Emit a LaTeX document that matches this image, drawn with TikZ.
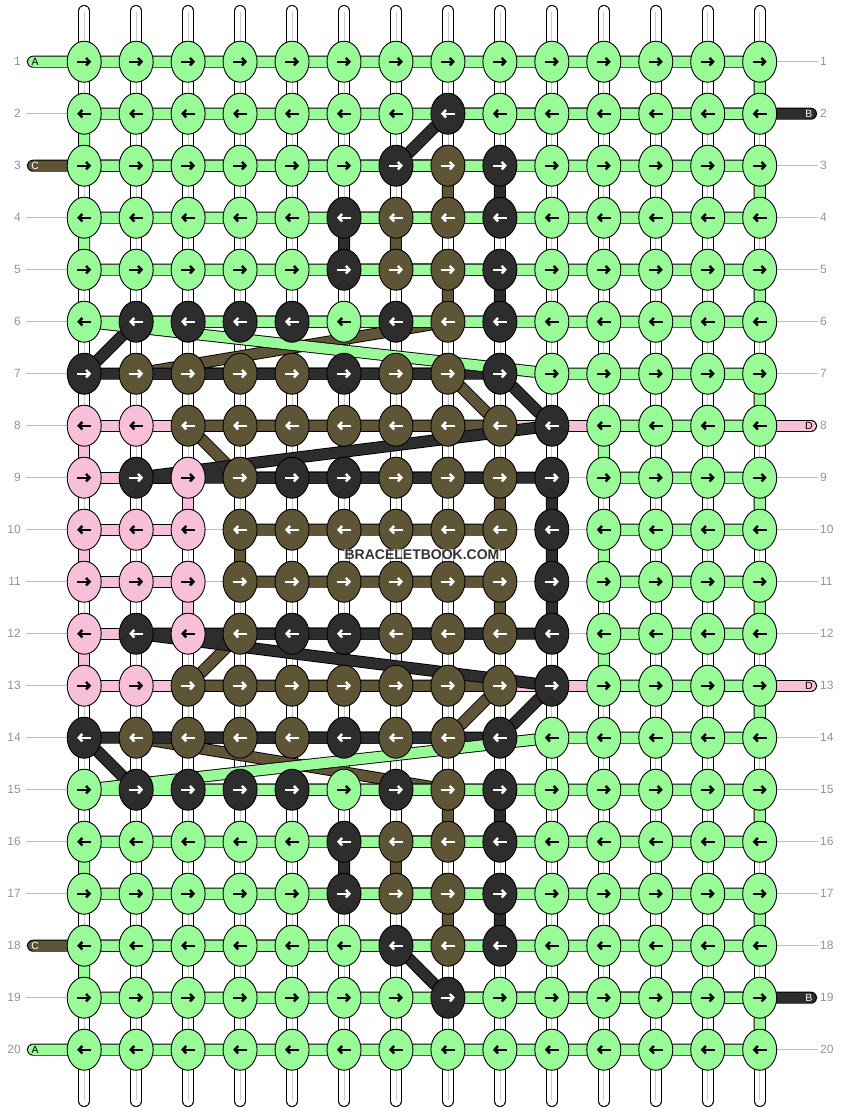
\documentclass[tikz,border=0pt]{standalone}
\usepackage{fontspec}
\setmainfont{Liberation Sans}
\usetikzlibrary{shapes.geometric,arrows.meta}
\definecolor{kg}{HTML}{98FB98}
\definecolor{kd}{HTML}{2D2D2D}
\definecolor{kb}{HTML}{5E5436}
\definecolor{kp}{HTML}{F8BFD9}
\colorlet{arrowkg}{black}
\colorlet{arrowkp}{black}
\colorlet{arrowkd}{white}
\colorlet{arrowkb}{white}
\pgfdeclarelayer{back}
\pgfdeclarelayer{strands}
\pgfsetlayers{back,strands,main}
\tikzstyle{every picture}=[x=1pt, y=-1pt]
\tikzstyle{knot}=[ellipse, draw=black, line width=0.9pt, minimum width=34pt, minimum height=41pt, inner sep=0pt]
\tikzstyle{arr}=[line width=2.4pt, -{Straight Barb[length=3.5pt,width=7.5pt]}]
\tikzstyle{warp}=[draw=black, line width=0.9pt, double=white, double distance=10.2pt, line cap=round]
\tikzstyle{warpcore}=[draw=black!20, line width=0.7pt]
\tikzstyle{guide}=[draw=black!25, line width=0.8pt]
\tikzstyle{rownum}=[text=black!42, font=\fontsize{12}{12}\selectfont, inner sep=0pt]
\tikzstyle{tag}=[font=\fontsize{10.5}{10.5}\selectfont, inner sep=0pt]
\tikzstyle{logomark}=[font=\bfseries\fontsize{14}{14}\selectfont, text=black!80, fill=white, fill opacity=.6, text opacity=1, inner sep=1pt]
\tikzset{strand/.style={draw=black, line width=0.9pt, double=#1, double distance=10.2pt, line cap=round, line join=round}}

\begin{document}
\begin{tikzpicture}
	\useasboundingbox (0,0) rectangle (844,1112);
	\foreach \row [count=\r] in {
		{g,g,g,g,g,g,g,g,g,g,g,g,g,g},
		{g,g,g,g,g,g,g,d,g,g,g,g,g,g},
		{g,g,g,g,g,g,d,b,d,g,g,g,g,g},
		{g,g,g,g,g,d,b,b,d,g,g,g,g,g},
		{g,g,g,g,g,d,b,b,d,g,g,g,g,g},
		{g,d,d,d,d,g,d,b,d,g,g,g,g,g},
		{d,b,b,b,b,d,b,b,d,g,g,g,g,g},
		{p,p,b,b,b,b,b,b,b,d,g,g,g,g},
		{p,d,p,b,d,d,b,b,b,d,g,g,g,g},
		{p,p,p,b,b,b,b,b,b,d,g,g,g,g},
		{p,p,p,b,b,b,b,b,b,d,g,g,g,g},
		{p,d,p,b,d,d,b,b,b,d,g,g,g,g},
		{p,p,b,b,b,b,b,b,b,d,g,g,g,g},
		{d,b,b,b,b,d,b,b,d,g,g,g,g,g},
		{g,d,d,d,d,g,d,b,d,g,g,g,g,g},
		{g,g,g,g,g,d,b,b,d,g,g,g,g,g},
		{g,g,g,g,g,d,b,b,d,g,g,g,g,g},
		{g,g,g,g,g,g,d,b,d,g,g,g,g,g},
		{g,g,g,g,g,g,g,d,g,g,g,g,g,g},
		{g,g,g,g,g,g,g,g,g,g,g,g,g,g}}{
		\foreach \col [count=\k] in \row {
			\node[knot, fill=k\col] (k\r-\k) at ({84.2+51.96*(\k-1)},{61.7+52*(\r-1)}) {};
			\ifodd\r\relax
				\draw[arr, draw=arrowk\col] (k\r-\k.center) ++(-7,0) -- ++(14,0);
			\else
				\draw[arr, draw=arrowk\col] (k\r-\k.center) ++(7,0) -- ++(-14,0);
			\fi
		}
	}
	\foreach \r in {1,...,20} {
		\node[rownum, anchor=east] (nl\r) at (21,{61.7+52*(\r-1)}) {\r};
		\node[rownum, anchor=west] (nr\r) at (820,{61.7+52*(\r-1)}) {\r};
	}
	\coordinate (tA1) at ([xshift=-51.2pt]k1-1.center);
	\coordinate (tA20) at ([xshift=-51.2pt]k20-1.center);
	\coordinate (tC3) at ([xshift=-51.2pt]k3-1.center);
	\coordinate (tC18) at ([xshift=-51.2pt]k18-1.center);
	\coordinate (tB2) at ([xshift=51.3pt]k2-14.center);
	\coordinate (tB19) at ([xshift=51.3pt]k19-14.center);
	\coordinate (tD8) at ([xshift=51.3pt]k8-14.center);
	\coordinate (tD13) at ([xshift=51.3pt]k13-14.center);
	\node[tag, text=black] (lA1) at ([xshift=-49pt]k1-1.center) {A};
	\node[tag, text=black] (lA20) at ([xshift=-49pt]k20-1.center) {A};
	\node[tag, text=white] (lC3) at ([xshift=-49pt]k3-1.center) {C};
	\node[tag, text=white] (lC18) at ([xshift=-49pt]k18-1.center) {C};
	\node[tag, text=white] (lB2) at ([xshift=49.3pt]k2-14.center) {B};
	\node[tag, text=white] (lB19) at ([xshift=49.3pt]k19-14.center) {B};
	\node[tag, text=black] (lD8) at ([xshift=49.3pt]k8-14.center) {D};
	\node[tag, text=black] (lD13) at ([xshift=49.3pt]k13-14.center) {D};
	\node[logomark] (logo) at (422,555) {BRACELETBOOK.COM};
	\begin{pgfonlayer}{back}
		\foreach \r in {1,...,20}
			\draw[guide] ([xshift=5pt]nl\r.east) -- ([xshift=-2pt]nr\r.west);
		\foreach \k in {1,...,14} {
			\draw[warp] (k1-\k.center) ++(0,-50.7) -- ++(0,1090);
			\draw[warpcore] (k1-\k.center) ++(0,-50) -- ++(0,1088.6);
		}
	\end{pgfonlayer}
	\begin{pgfonlayer}{strands}
		\draw[strand=kp] (tD8) -- (k8-1) -- (k9-1) -- (k9-3) -- (k10-3) -- (k10-1) -- (k11-1) -- (k11-3)
			-- (k12-3) -- (k12-1) -- (k13-1) -- (tD13);
		\draw[strand=kb] (tC3) -- (k3-8) -- (k4-8) -- (k4-7) -- (k5-7) -- (k5-8) -- (k6-8) -- (k7-2) -- (k7-8)
			-- (k8-9) -- (k8-3) -- (k9-4) -- (k9-9) -- (k10-9) -- (k10-4) -- (k11-4) -- (k11-9) -- (k12-9)
			-- (k12-4) -- (k13-3) -- (k13-9) -- (k14-8) -- (k14-2) -- (k15-8) -- (k16-8) -- (k16-7)
			-- (k17-7) -- (k17-8) -- (k18-8) -- (tC18);
		\draw[strand=kd] (tB2) -- (k2-8) -- (k3-7) -- (k3-9) -- (k4-9) -- (k4-6) -- (k5-6) -- (k5-9) -- (k6-9)
			-- (k6-2) -- (k7-1) -- (k7-9) -- (k8-10) -- (k9-2) -- (k9-10) -- (k10-10) -- (k11-10) -- (k12-10)
			-- (k12-2) -- (k13-10) -- (k14-9) -- (k14-1) -- (k15-2) -- (k15-9) -- (k16-9) -- (k16-6)
			-- (k17-6) -- (k17-9) -- (k18-9) -- (k18-7) -- (k19-8) -- (tB19);
		\draw[strand=kg] (tA1) -- (k1-14) -- (k2-14) -- (k2-1) -- (k3-1) -- (k3-14) -- (k4-14) -- (k4-1)
			-- (k5-1) -- (k5-14) -- (k6-14) -- (k6-1) -- (k7-10) -- (k7-14) -- (k8-14) -- (k8-11) -- (k9-11)
			-- (k9-14) -- (k10-14) -- (k10-11) -- (k11-11) -- (k11-14) -- (k12-14) -- (k12-11) -- (k13-11)
			-- (k13-14) -- (k14-14) -- (k14-10) -- (k15-1) -- (k15-14) -- (k16-14) -- (k16-1) -- (k17-1)
			-- (k17-14) -- (k18-14) -- (k18-1) -- (k19-1) -- (k19-14) -- (k20-14) -- (tA20);
	\end{pgfonlayer}
\end{tikzpicture}
\end{document}
